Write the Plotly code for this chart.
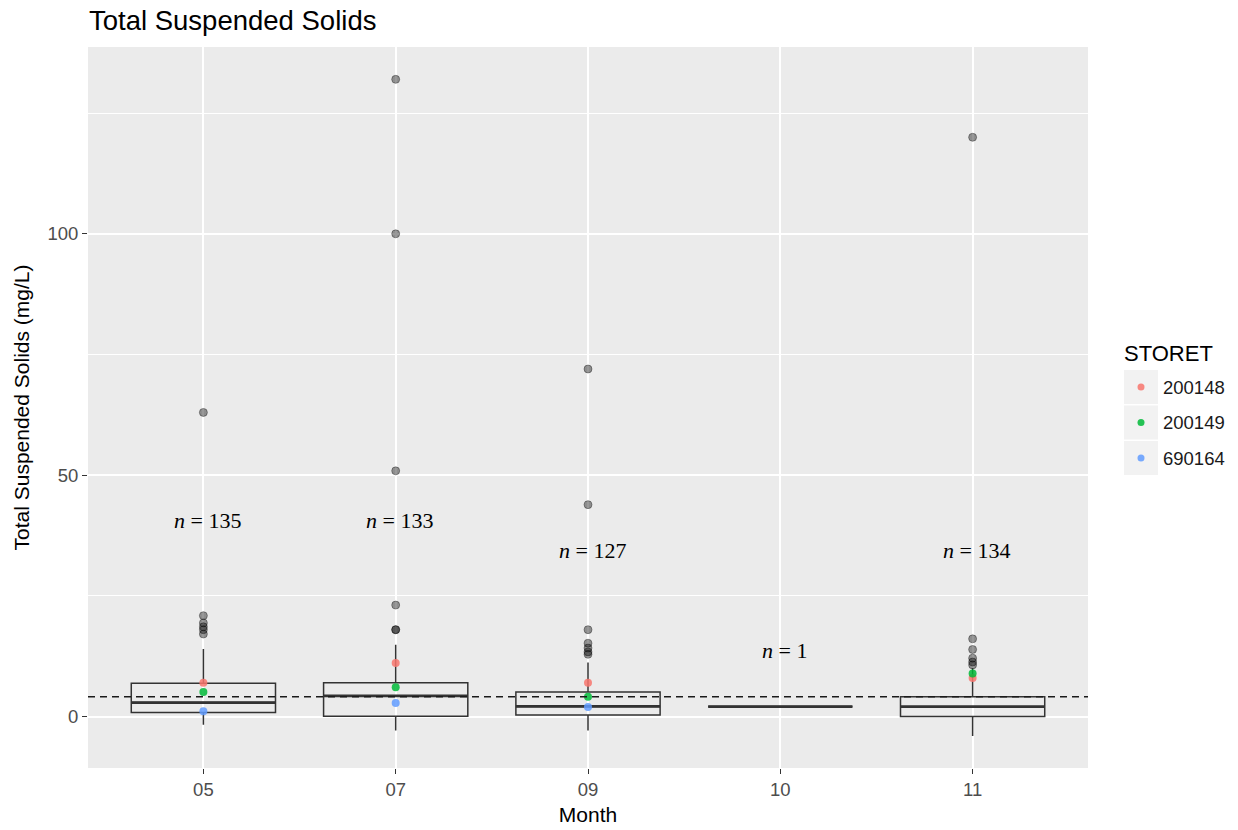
import plotly.graph_objects as go

# ---------------- data ----------------
months = ["05", "07", "09", "10", "11"]
box_q1 = [0.85, 0.05, 0.35, 2.07, 0.0]
box_median = [2.9, 4.3, 2.1, 2.07, 2.05]
box_q3 = [6.9, 7.0, 5.1, 2.07, 4.1]
box_lower = [-1.7, -2.9, -2.9, 2.07, -4.0]
box_upper = [14.0, 14.9, 11.2, 2.07, 10.0]

outliers_05 = [63.0, 20.9, 19.4, 18.6, 18.0, 17.1]
outliers_07 = [132.0, 100.0, 50.9, 23.1, 18.0, 18.0]
outliers_09 = [72.0, 43.9, 18.0, 15.2, 14.2, 13.4, 12.9]
outliers_10 = []
outliers_11 = [120.0, 16.1, 13.9, 12.1, 11.3, 10.7]

stations = ["200148", "200149", "690164"]
station_colors = ["#F8766D", "#00BA38", "#619CFF"]
values_200148 = [7.0, 11.1, 7.0, None, 8.0]
values_200149 = [5.1, 6.1, 4.1, None, 8.9]
values_690164 = [1.1, 2.8, 2.0, None, None]

n_counts = [135, 133, 127, 1, 134]
n_label_y = [40.7, 40.7, 34.5, 13.6, 34.5]

overall_mean = 4.1

# ---------------- figure ----------------
W, H = 1238, 830
L, R, T, B = 88, 1088, 47, 768
PW, PH = R - L, B - T


def px_x(px):
    return (px - L) / PW


def px_y(py):
    return (B - py) / PH


fig = go.Figure()

# boxes
fig.add_trace(go.Box(
    x=months, q1=box_q1, median=box_median, q3=box_q3,
    lowerfence=box_lower, upperfence=box_upper,
    boxpoints=False, width=0.75, whiskerwidth=0,
    fillcolor="rgba(0,0,0,0)", line=dict(color="#333333", width=1.5),
    showlegend=False, hoverinfo="skip",
))
# thicker median
fig.add_trace(go.Box(
    x=months, q1=box_median, median=box_median, q3=box_median,
    lowerfence=box_median, upperfence=box_median,
    boxpoints=False, width=0.75, whiskerwidth=0,
    fillcolor="rgba(0,0,0,0)", line=dict(color="#333333", width=2.8),
    showlegend=False, hoverinfo="skip",
))

# outliers
out_lists = [outliers_05, outliers_07, outliers_09, outliers_10, outliers_11]
out_x, out_y = [], []
for m, vals in zip(months, out_lists):
    for v in vals:
        out_x.append(m)
        out_y.append(v)
fig.add_trace(go.Scatter(
    x=out_x, y=out_y, mode="markers",
    marker=dict(size=8, color="rgba(0,0,0,0.4)",
                line=dict(color="rgba(0,0,0,0.35)", width=1)),
    showlegend=False, hoverinfo="skip",
))

# station points
for name, col, vals in zip(stations, station_colors,
                           [values_200148, values_200149, values_690164]):
    xs = [m for m, v in zip(months, vals) if v is not None]
    ys = [v for v in vals if v is not None]
    fig.add_trace(go.Scatter(
        x=xs, y=ys, mode="markers", name=name,
        marker=dict(size=8, color=col, opacity=0.85, line=dict(width=0)),
        showlegend=False,
    ))

shapes = []
# dashed mean line
shapes.append(dict(type="line", xref="paper", x0=0, x1=1, yref="y",
                   y0=overall_mean, y1=overall_mean,
                   line=dict(color="#1A1A1A", width=1.6, dash="7px,5px"),
                   layer="above"))

annotations = []
for i, (m, n, yv) in enumerate(zip(months, n_counts, n_label_y)):
    annotations.append(dict(
        x=i, y=yv, xref="x", yref="y", text=f"<i>n</i> = {n}",
        showarrow=False, xanchor="center", yanchor="middle", xshift=4,
        font=dict(family="Liberation Serif, Times New Roman, serif",
                  size=22, color="black")))

# custom legend (ggplot style)
annotations.append(dict(
    x=px_x(1122), y=px_y(353), xref="paper", yref="paper", text="STORET",
    showarrow=False, xanchor="left", yanchor="middle",
    font=dict(family="Liberation Sans, Arial, sans-serif", size=22,
              color="black")))
key_tops = [370, 405.5, 441]
for name, col, kt in zip(stations, station_colors, key_tops):
    shapes.append(dict(type="rect", xref="paper", yref="paper",
                       x0=px_x(1124), x1=px_x(1158),
                       y0=px_y(kt + 34), y1=px_y(kt),
                       fillcolor="#F2F2F2", line=dict(width=0),
                       layer="above"))
    shapes.append(dict(type="circle", xref="paper", yref="paper",
                       xsizemode="pixel", ysizemode="pixel",
                       xanchor=px_x(1141), yanchor=px_y(kt + 17),
                       x0=-3.5, x1=3.5, y0=-3.5, y1=3.5,
                       fillcolor=col, opacity=0.85, line=dict(width=0),
                       layer="above"))
    annotations.append(dict(
        x=px_x(1161), y=px_y(kt + 17), xref="paper", yref="paper",
        text=name, showarrow=False, xanchor="left", yanchor="middle",
        font=dict(family="Liberation Sans, Arial, sans-serif", size=18.5,
                  color="#1A1A1A")))

fig.update_layout(
    width=W, height=H,
    margin=dict(l=L, r=W - R, t=T, b=H - B, pad=0, autoexpand=False),
    paper_bgcolor="white", plot_bgcolor="#EBEBEB",
    showlegend=False,
    font=dict(family="Liberation Sans, Arial, sans-serif", color="#4D4D4D"),
    title=dict(text="Total Suspended Solids", x=px_x(89), xref="paper",
               xanchor="left", y=1 - 20 / H, yref="container",
               yanchor="middle",
               font=dict(size=27.5, color="black",
                         family="Liberation Sans, Arial, sans-serif")),
    shapes=shapes, annotations=annotations,
    boxmode="overlay",
)
fig.update_xaxes(
    type="category", categoryorder="array", categoryarray=months,
    range=[-0.6, 4.6], showgrid=True, gridcolor="white", gridwidth=1.6,
    ticks="outside", ticklen=5, tickwidth=1.4, tickcolor="#333333",
    tickfont=dict(size=18.5, color="#4D4D4D"), zeroline=False,
    showline=False, automargin=False,
    title=dict(text="Month", standoff=8,
               font=dict(size=21, color="black")),
)
fig.update_yaxes(
    range=[-10.65, 138.7], tick0=0, dtick=50, showgrid=True,
    gridcolor="white", gridwidth=1.6, zeroline=False, showline=False,
    ticks="outside", ticklen=5, tickwidth=1.4, tickcolor="#333333",
    tickfont=dict(size=18.5, color="#4D4D4D"), automargin=False,
    minor=dict(dtick=25, tick0=0, showgrid=True, gridcolor="white",
               gridwidth=0.8, ticks=""),
    title=dict(text="Total Suspended Solids (mg/L)", standoff=12,
               font=dict(size=21, color="black")),
)

fig.write_html("out.html")
